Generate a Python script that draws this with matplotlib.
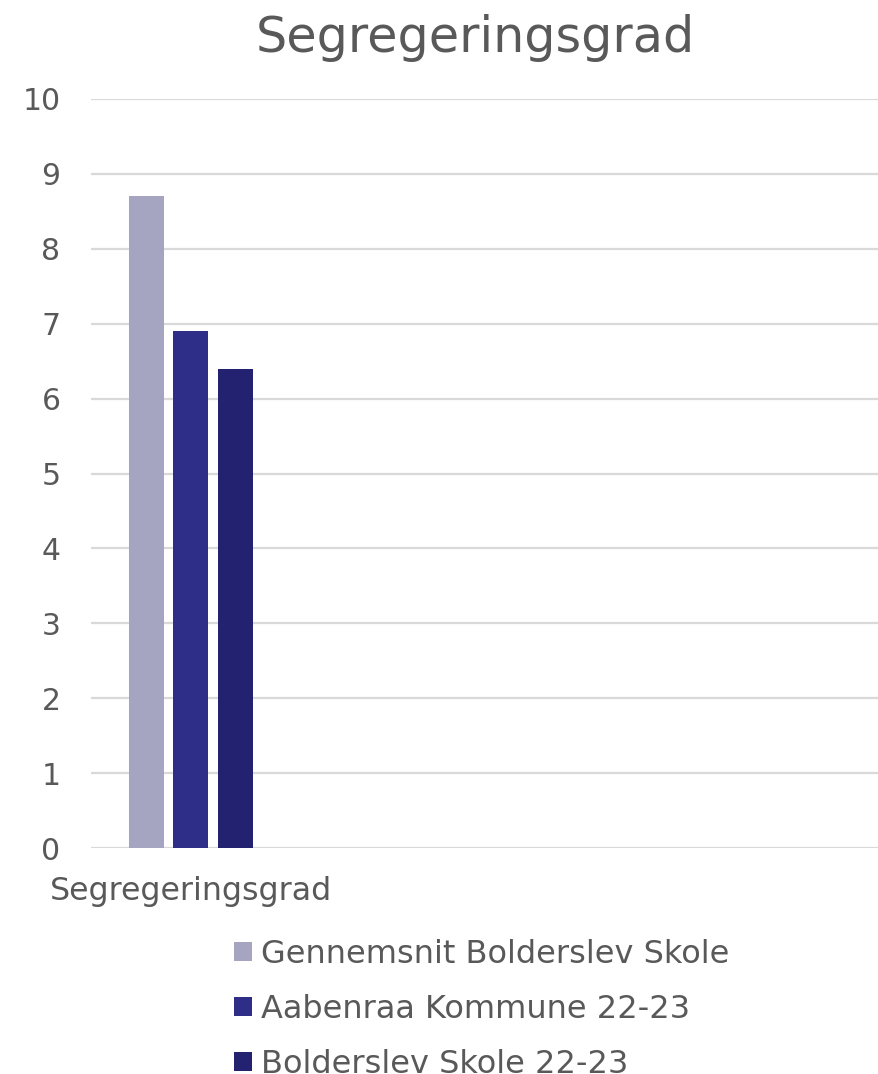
import matplotlib
matplotlib.use("Agg")
import matplotlib.pyplot as plt
from matplotlib.patches import Patch

categories = ["Segregeringsgrad"]
series_names = ["Gennemsnit Bolderslev Skole", "Aabenraa Kommune 22-23", "Bolderslev Skole 22-23"]
series_values = [[8.7], [6.9], [6.4]]
colors = ["#A5A5C1", "#2E2E88", "#232270"]
yticks = [0, 1, 2, 3, 4, 5, 6, 7, 8, 9, 10]

TXT = "#595959"
plt.rcParams['font.family'] = ['DejaVu Sans']

fig = plt.figure(figsize=(8.79, 10.74), dpi=100)
ax = fig.add_axes([91/879, 1-848/1074, 788/879, 749/1074])

bar_w = 0.175
offsets = [-0.222, 0.0, 0.222]
for vals, off, c, name in zip(series_values, offsets, colors, series_names):
    xs = [i + off for i in range(len(categories))]
    ax.bar(xs, vals, width=bar_w, color=c, label=name, zorder=3)

ax.set_xlim(-0.5, 3.44)
ax.set_ylim(0, 10)
ax.set_yticks(yticks)
ax.set_yticklabels([str(t) for t in yticks])
ax.set_xticks(range(len(categories)))
ax.set_xticklabels(categories)
ax.tick_params(axis='y', length=0, pad=22, labelsize=21.5, labelcolor=TXT)
ax.tick_params(axis='x', length=0, pad=20, labelsize=22.8, labelcolor=TXT)
ax.grid(axis='y', color='#D9D9D9', linewidth=1.6, zorder=0)
for s in ax.spines.values():
    s.set_visible(False)

fig.text(475/879, 1-38/1074, "Segregeringsgrad", ha='center', va='center',
         fontsize=35.5, color=TXT)

handles = [Patch(facecolor=c, edgecolor='none') for c in colors]
leg = fig.legend(handles, series_names, loc='upper left',
                 bbox_to_anchor=(234/879, 1-939/1074), frameon=False,
                 fontsize=23, handlelength=0.56, handleheight=0.56,
                 handletextpad=0.28, labelspacing=0.75, borderpad=0, borderaxespad=0)
for t in leg.get_texts():
    t.set_color(TXT)

fig.savefig("out.png", dpi=100, facecolor='white')
